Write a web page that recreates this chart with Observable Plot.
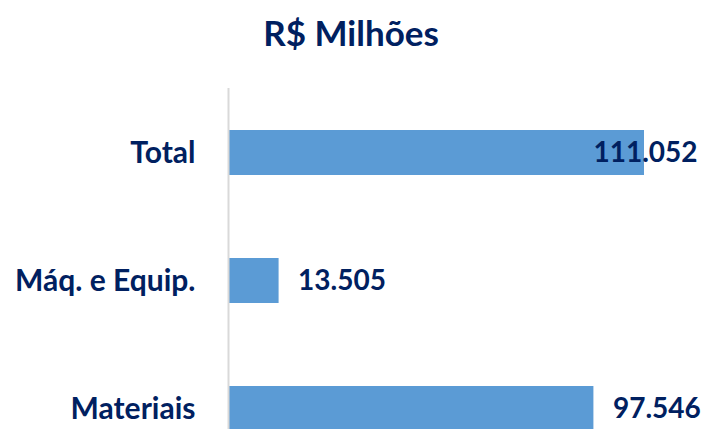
<!DOCTYPE html>
<html>
<head>
<meta charset="utf-8">
<script src="https://cdn.jsdelivr.net/npm/d3@7"></script>
<script src="https://cdn.jsdelivr.net/npm/@observablehq/plot@0.6"></script>
<style>
  html, body { margin: 0; padding: 0; background: #fff; }
  body { width: 702px; height: 429px; overflow: hidden; font-family: Lato, "Open Sans", sans-serif; }
  #title { height: 64px; line-height: 64px; text-align: center; font-size: 35px; font-weight: 700; color: #002060; }
</style>
</head>
<body>
<div id="title">R$ Milhões</div>
<div id="chart"></div>
<script>
const categories = ["Total", "Máq. e Equip.", "Materiais"];
const values = [111052, 13505, 97546];
const valueLabels = ["111.052", "13.505", "97.546"];

const data = categories.map((c, i) => ({category: c, value: values[i], label: valueLabels[i]}));

const navy = "#002060";
const chart = Plot.plot({
  width: 702,
  height: 365,
  marginLeft: 228,
  marginRight: 0,
  marginTop: 24,
  marginBottom: 0,
  style: {fontFamily: "Lato, 'Open Sans', sans-serif", background: "#fff"},
  x: {domain: [0, 111052], range: [228, 644], axis: null},
  y: {domain: categories, range: [65, 367], paddingInner: 0.65, paddingOuter: 0, label: null},
  marks: [
    Plot.barX(data, {x: "value", y: "category", fill: "#5B9BD5"}),
    Plot.ruleX([0], {stroke: "#d9d9d9", strokeWidth: 2}),
    Plot.axisY({tickSize: 0, tickPadding: 33, fontSize: 30, fontWeight: 700, fill: navy, label: null,
      tickFormat: d => d}),
    Plot.text(data.filter(d => d.category !== "Total"), {x: "value", y: "category", text: "label", dx: 19,
      textAnchor: "start", fontSize: 28, fontWeight: 700, fill: navy}),
    Plot.text(data.filter(d => d.category === "Total"), {y: "category", text: "label", frameAnchor: "right", dx: -5,
      textAnchor: "end", fontSize: 28, fontWeight: 700, fill: navy})
  ]
});
document.getElementById("chart").appendChild(chart);
</script>
</body>
</html>
